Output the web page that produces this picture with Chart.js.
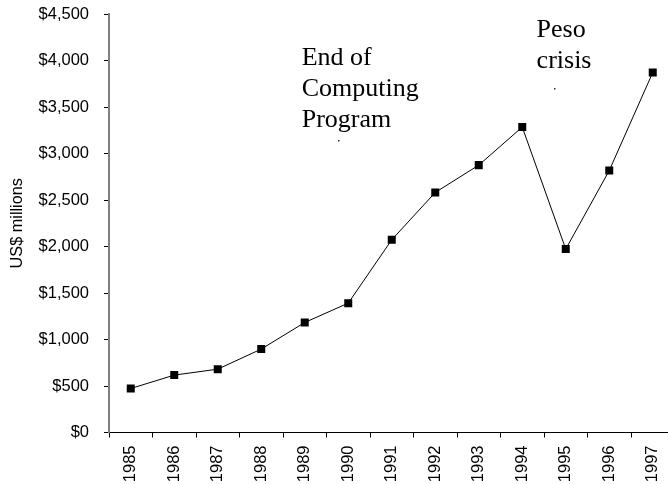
<!DOCTYPE html>
<html><head><meta charset="utf-8">
<script src="https://cdn.jsdelivr.net/npm/chart.js@4/dist/chart.umd.min.js"></script>
<style>
html,body{margin:0;padding:0;background:#fff;overflow:hidden;width:668px;height:484px;}
#wrap{width:668px;height:484px;overflow:hidden;position:relative;}
canvas{display:block;}
</style></head><body>
<div id="wrap"><canvas id="c" width="700" height="484" style="width:700px;height:484px"></canvas></div>
<script>
const years = ['1985','1986','1987','1988','1989','1990','1991','1992','1993','1994','1995','1996','1997'];
const revenue = [473, 617, 681, 897, 1183, 1391, 2072, 2581, 2875, 3284, 1972, 2817, 3871];
const yTickValues = [0, 500, 1000, 1500, 2000, 2500, 3000, 3500, 4000, 4500];
const yAxisTitle = 'US$ millions';
const noteComputing = ['End of', 'Computing', 'Program'];
const notePeso = ['Peso', 'crisis'];

// annotation anchors in data space (category index, value)
const notes = [
  {lines: noteComputing, xi: 3.93, yv: 3955, dotXi: 4.76, dotYv: 3148},
  {lines: notePeso, xi: 9.33, yv: 4258, dotXi: 9.72, dotYv: 3706}
];

const sansFont = "'Liberation Sans', Arial, sans-serif";
const serifFont = "'Liberation Serif', 'Times New Roman', serif";

const notePlugin = {
  id: 'notes',
  afterDraw(chart) {
    const ctx = chart.ctx;
    const xs = chart.scales.x, ys = chart.scales.y;
    const pxPerIdx = xs.getPixelForValue(1) - xs.getPixelForValue(0);
    const x0 = xs.getPixelForValue(0);
    ctx.save();
    ctx.fillStyle = '#000';
    ctx.font = "26px " + serifFont;
    ctx.textAlign = 'left';
    ctx.textBaseline = 'alphabetic';
    notes.forEach(n => {
      const x = x0 + n.xi * pxPerIdx;
      const y = ys.getPixelForValue(n.yv);
      n.lines.forEach((t, i) => ctx.fillText(t, x, y + i * 31.3));
      const dx = x0 + n.dotXi * pxPerIdx;
      const dy = ys.getPixelForValue(n.dotYv);
      ctx.fillStyle = '#333';
      ctx.fillRect(Math.round(dx), Math.round(dy), 1.5, 1.5);
      ctx.fillStyle = '#000';
    });
    ctx.restore();
  }
};

new Chart(document.getElementById('c'), {
  type: 'line',
  data: {
    labels: years,
    datasets: [{
      data: revenue,
      borderColor: '#000',
      borderWidth: 1,
      backgroundColor: '#000',
      pointStyle: 'rect',
      pointRadius: 5.66,
      pointBorderWidth: 0,
      pointBackgroundColor: '#000',
      tension: 0,
      fill: false
    }]
  },
  options: {
    responsive: false,
    animation: false,
    devicePixelRatio: 1,
    layout: {padding: {left: 0, top: 14, right: 25.5, bottom: 0}},
    plugins: {legend: {display: false}, tooltip: {enabled: false}},
    scales: {
      x: {
        type: 'category',
        offset: true,
        grid: {offset: true, drawOnChartArea: false, tickLength: 5, tickColor: '#000', tickWidth: 1},
        border: {color: '#000', width: 1},
        ticks: {minRotation: 90, maxRotation: 90, autoSkip: false, padding: 8, color: '#000',
                font: {family: sansFont, size: 16.5}},
        afterFit: s => { s.height = 51.5; s.paddingLeft = 0; s.paddingRight = 0; }
      },
      y: {
        min: 0, max: 4500,
        afterBuildTicks: s => { s.ticks = yTickValues.map(v => ({value: v})); },
        ticks: {padding: 15, color: '#000', font: {family: sansFont, size: 16.5},
                callback: v => '$' + Number(v).toLocaleString('en-US')},
        grid: {drawOnChartArea: false, tickLength: 5, tickColor: '#000', tickWidth: 1},
        border: {color: '#808080', width: 2},
        title: {display: true, text: yAxisTitle, color: '#000', font: {family: sansFont, size: 16.3},
                padding: {top: 8, bottom: 0}},
        afterFit: s => { s.width = 109; s.paddingTop = 0; s.paddingBottom = 0; }
      }
    }
  },
  plugins: [notePlugin]
});
</script>
</body></html>
